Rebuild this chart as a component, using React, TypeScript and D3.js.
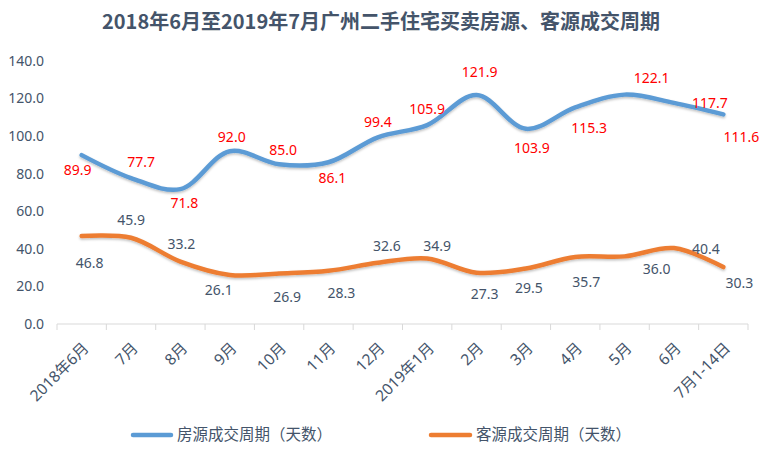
import React from "react";
import * as d3 from "d3";

const title = "2018年6月至2019年7月广州二手住宅买卖房源、客源成交周期";
const categories = ["2018年6月", "7月", "8月", "9月", "10月", "11月", "12月", "2019年1月", "2月", "3月", "4月", "5月", "6月", "7月1-14日"];
const listingCycle = [89.9, 77.7, 71.8, 92.0, 85.0, 86.1, 99.4, 105.9, 121.9, 103.9, 115.3, 122.1, 117.7, 111.6];
const buyerCycle = [46.8, 45.9, 33.2, 26.1, 26.9, 28.3, 32.6, 34.9, 27.3, 29.5, 35.7, 36.0, 40.4, 30.3];
const yTicks = [0, 20, 40, 60, 80, 100, 120, 140];
const seriesNames = ["房源成交周期（天数）", "客源成交周期（天数）"];

// label offsets (style): [dx, dy] from the point
const listingLabelOffsets = [[-4, 15], [10, -16], [4, 14], [2, -14], [4, -14], [4, 16], [0, -15], [0, -16], [3, -23], [6, 19], [14, 21], [27, -17], [36, 0], [18, 23]];
const buyerLabelOffsets = [[8, 27], [0, -18], [1, -18], [-11, 15], [8, 24], [13, 22], [9, -17], [10, -12], [8, 21], [3, 20], [11, 25], [32, 13], [32, 1], [16, 16]];

const W = 767, H = 451;
const left = 57, right = 748, top = 61, bottom = 324;
const BLUE = "#5B9BD5", ORANGE = "#ED7D31", TEXT = "#44546A";
const FONT = "'Noto Sans', 'Noto Sans CJK SC', sans-serif";
const CJK = "'Noto Sans CJK SC', sans-serif";

export default function App() {
  const x = d3.scaleBand<string>().domain(categories).range([left, right]);
  const y = d3.scaleLinear().domain([0, 140]).range([bottom, top]);
  const cx = (c: string) => (x(c) as number) + x.bandwidth() / 2;
  const line = d3.line<number>()
    .x((_, i) => cx(categories[i]))
    .y((d) => y(d))
    .curve(d3.curveCatmullRom.alpha(0.5));

  const series = [
    { data: listingCycle, color: BLUE, labelColor: "#FF0000", offsets: listingLabelOffsets },
    { data: buyerCycle, color: ORANGE, labelColor: TEXT, offsets: buyerLabelOffsets },
  ];
  const boundaries = categories.map((c) => x(c) as number).concat([right]);

  return (
    <svg width={W} height={H} style={{ position: "absolute", left: 0, top: 0, background: "#fff" }}>
      <defs>
        <filter id="sh" x="-5%" y="-20%" width="110%" height="140%">
          <feDropShadow dx="0" dy="1.5" stdDeviation="1.2" floodColor="#000" floodOpacity="0.25" />
        </filter>
      </defs>
      <text x={381} y={29} textAnchor="middle" fontFamily={CJK} fontWeight="bold" fontSize={20} fill={TEXT}>{title}</text>

      {yTicks.map((t) => (
        <text key={t} x={44} y={y(t)} dy="0.35em" textAnchor="end" fontFamily={FONT} fontSize={14} fill={TEXT}>{t.toFixed(1)}</text>
      ))}

      <line x1={left} x2={right} y1={bottom} y2={bottom} stroke="#D9D9D9" strokeWidth={1} />
      {boundaries.map((b, i) => (
        <line key={i} x1={b} x2={b} y1={bottom} y2={bottom + 6} stroke="#D9D9D9" strokeWidth={1} />
      ))}

      {categories.map((c) => (
        <text key={c} transform={`translate(${cx(c) + 8},${bottom + 25}) rotate(-45)`} textAnchor="end" fontFamily={FONT} fontSize={15.5} fill={TEXT}>{c}</text>
      ))}

      {series.map((s, si) => (
        <path key={si} d={line(s.data) as string} fill="none" stroke={s.color} strokeWidth={4.5} strokeLinecap="round" strokeLinejoin="round" filter="url(#sh)" />
      ))}

      {series.map((s, si) =>
        s.data.map((v, i) => (
          <text key={`${si}-${i}`} x={cx(categories[i]) + s.offsets[i][0]} y={y(v) + s.offsets[i][1]} dy="0.35em" textAnchor="middle" fontFamily={FONT} fontSize={14} fill={s.labelColor}>{v.toFixed(1)}</text>
        ))
      )}

      <g>
        <line x1={133} x2={171} y1={435} y2={435} stroke={BLUE} strokeWidth={4.5} strokeLinecap="round" />
        <text x={177} y={435} dy="0.35em" fontFamily={CJK} fontSize={15.5} fill={TEXT}>{seriesNames[0]}</text>
        <line x1={431} x2={470} y1={435} y2={435} stroke={ORANGE} strokeWidth={4.5} strokeLinecap="round" />
        <text x={476} y={435} dy="0.35em" fontFamily={CJK} fontSize={15.5} fill={TEXT}>{seriesNames[1]}</text>
      </g>
    </svg>
  );
}
